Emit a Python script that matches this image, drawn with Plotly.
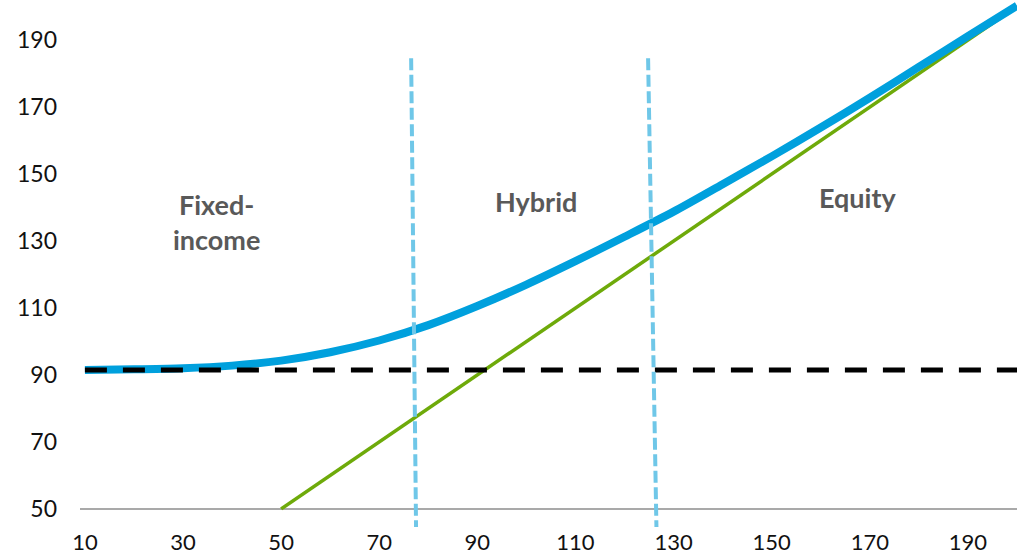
import plotly.graph_objects as go

# Underlying share price (x) and convertible value (blue curve)
price = [10, 20, 30, 40, 50, 60, 70, 80, 90, 100, 110, 120, 130, 140, 150,
         160, 170, 180, 190, 200]
convertible_value = [91.5, 91.7, 92.0, 92.8, 94.3, 96.8, 100.3, 104.9, 110.6,
                     117.0, 124.0, 131.3, 138.8, 147.0, 155.3, 163.9, 172.8,
                     182.0, 191.2, 200.3]

# Conversion value (parity) line
parity_x = [50, 200]
parity_y = [50, 200]

# Bond floor
floor_x = [10, 200]
floor_y = [91.5, 91.5]

# Regime boundaries (slightly tilted dotted lines)
boundary1_x = [76.5, 77.5]
boundary2_x = [124.8, 126.5]
boundary_y = [184.6, 44.6]

# Region labels
region_names = ["Fixed-<br>income", "Hybrid", "Equity"]
region_x = [36.9, 102.0, 167.4]
region_y = [135.6, 141.8, 143.0]

x_ticks = list(range(10, 200, 20))
y_ticks = list(range(50, 200, 20))
baseline_y = 50

FONT = "Lato, 'Open Sans', sans-serif"

fig = go.Figure()

fig.add_trace(go.Scatter(x=parity_x, y=parity_y, mode="lines",
                         line=dict(color="#6EAA0A", width=3.5),
                         hoverinfo="skip"))
fig.add_trace(go.Scatter(x=price, y=convertible_value, mode="lines",
                         line=dict(color="#00A0DD", width=8, shape="spline",
                                   smoothing=0.8),
                         hoverinfo="skip"))
fig.add_trace(go.Scatter(x=floor_x, y=floor_y, mode="lines",
                         line=dict(color="#000000", width=5, dash="22px,16px"),
                         hoverinfo="skip"))
for bx in (boundary1_x, boundary2_x):
    fig.add_trace(go.Scatter(x=bx, y=boundary_y, mode="lines",
                             line=dict(color="#6FC7E8", width=4,
                                       dash="12px,4.5px"),
                             hoverinfo="skip"))

# Horizontal axis baseline at the bottom value of the y scale
fig.add_shape(type="line", xref="x", yref="y", x0=9, x1=200,
              y0=baseline_y, y1=baseline_y,
              line=dict(color="#8C8C8C", width=1.5), layer="below")

for name, xx, yy in zip(region_names, region_x, region_y):
    fig.add_annotation(x=xx, y=yy, text="<b>" + name + "</b>", showarrow=False,
                       font=dict(family=FONT, size=27, color="#595959"),
                       align="center")

fig.update_layout(
    width=1017, height=554,
    margin=dict(l=80, r=0, t=0, b=27),
    paper_bgcolor="white", plot_bgcolor="white",
    showlegend=False,
    xaxis=dict(range=[9, 200], tickvals=x_ticks, showgrid=False,
               zeroline=False, showline=False, ticks="", automargin=False,
               tickfont=dict(family=FONT, size=22, color="#111111"),
               ticklabelstandoff=0),
    yaxis=dict(range=[44.6, 202], tickvals=y_ticks, showgrid=False,
               zeroline=False, showline=False, ticks="", automargin=False,
               tickfont=dict(family=FONT, size=23, color="#111111"),
               ticklabelstandoff=22),
)

fig.write_html("out.html")
